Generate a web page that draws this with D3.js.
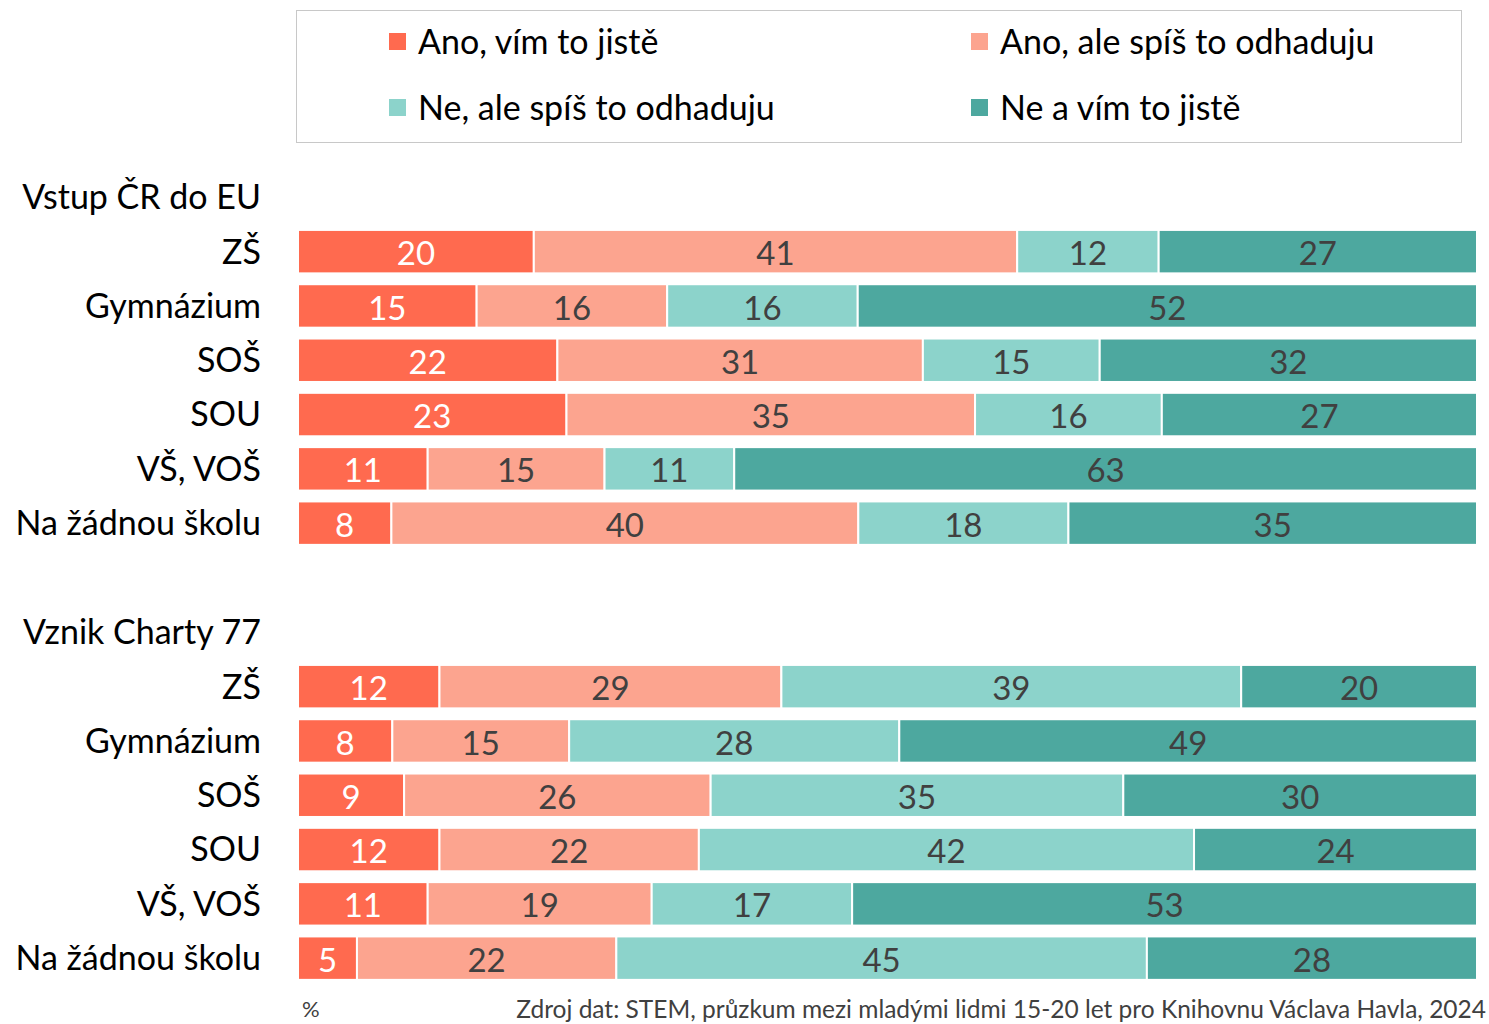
<!DOCTYPE html>
<html>
<head>
<meta charset="utf-8">
<script src="https://cdn.jsdelivr.net/npm/d3@7"></script>
<style>
  body { margin: 0; background: #fff; }
  text { font-family: Lato, "Open Sans", sans-serif; }
</style>
</head>
<body>
<script>
// data
const series = ["Ano, vím to jistě", "Ano, ale spíš to odhaduju", "Ne, ale spíš to odhaduju", "Ne a vím to jistě"];
const colors = ["#FF6A4F", "#FCA48F", "#8CD3CB", "#4DA89F"];
const schools = ["ZŠ", "Gymnázium", "SOŠ", "SOU", "VŠ, VOŠ", "Na žádnou školu"];
const groups = ["Vstup ČR do EU", "Vznik Charty 77"];
const euValues = [
    [20, 41, 12, 27],
    [15, 16, 16, 52],
    [22, 31, 15, 32],
    [23, 35, 16, 27],
    [11, 15, 11, 63],
    [8, 40, 18, 35]
];
const chartaValues = [
    [12, 29, 39, 20],
    [8, 15, 28, 49],
    [9, 26, 35, 30],
    [12, 22, 42, 24],
    [11, 19, 17, 53],
    [5, 22, 45, 28]
];
const groupValues = [euValues, chartaValues];

const width = 1489, height = 1024;
const labelSize = 34;
const svg = d3.select("body").append("svg")
    .attr("width", width)
    .attr("height", height);

// legend
svg.append("rect")
    .attr("x", 296.5).attr("y", 10.5)
    .attr("width", 1165).attr("height", 132)
    .attr("fill", "none")
    .attr("stroke", "#c8c8c8");

const legendX = [389, 971];
const legendY = [42, 108];
series.forEach(function (s, i) {
    const g = svg.append("g")
        .attr("transform", "translate(" + legendX[i % 2] + "," + legendY[Math.floor(i / 2)] + ")");
    g.append("rect")
        .attr("x", 0).attr("y", -9)
        .attr("width", 17).attr("height", 17)
        .attr("fill", colors[i]);
    g.append("text")
        .attr("x", 29).attr("y", 0)
        .attr("dy", "0.35em")
        .attr("font-size", labelSize)
        .attr("fill", "#000")
        .text(s);
});

// scales
const x = d3.scaleLinear().range([298, 1477]);
const groupTop = [170, 605];

groups.forEach(function (name, gi) {
    const top = groupTop[gi];
    const y = d3.scaleBand()
        .domain(schools)
        .range([top + 54.5, top + 54.5 + 54.3 * schools.length])
        .paddingInner(0.2)
        .paddingOuter(0.1);

    svg.append("text")
        .attr("x", 261)
        .attr("y", top + 27)
        .attr("dy", "0.35em")
        .attr("text-anchor", "end")
        .attr("font-size", labelSize)
        .attr("fill", "#000")
        .text(name);

    groupValues[gi].forEach(function (row, ri) {
        const total = d3.sum(row);
        x.domain([0, total]);
        const stacked = d3.cumsum(row);
        const rowG = svg.append("g");
        const cy = y(schools[ri]) + y.bandwidth() / 2;

        rowG.append("text")
            .attr("x", 261)
            .attr("y", cy)
            .attr("dy", "0.35em")
            .attr("text-anchor", "end")
            .attr("font-size", labelSize)
            .attr("fill", "#000")
            .text(schools[ri]);

        row.forEach(function (v, si) {
            const x0 = x(stacked[si] - v);
            const x1 = x(stacked[si]);
            rowG.append("rect")
                .attr("x", x0)
                .attr("y", y(schools[ri]))
                .attr("width", x1 - x0)
                .attr("height", y.bandwidth())
                .attr("fill", colors[si])
                .attr("stroke", "#fff")
                .attr("stroke-width", 2);
            rowG.append("text")
                .attr("x", (x0 + x1) / 2)
                .attr("y", cy + 2)
                .attr("dy", "0.35em")
                .attr("text-anchor", "middle")
                .attr("font-size", 33)
                .attr("fill", si === 0 ? "#fff" : "#404040")
                .text(v);
        });
    });
});

// footer
svg.append("text")
    .attr("x", 302).attr("y", 1009)
    .attr("dy", "0.35em")
    .attr("font-size", 22)
    .attr("fill", "#404040")
    .text("%");
svg.append("text")
    .attr("x", 1486).attr("y", 1009)
    .attr("dy", "0.35em")
    .attr("text-anchor", "end")
    .attr("font-size", 24.5)
    .attr("fill", "#404040")
    .text("Zdroj dat: STEM, průzkum mezi mladými lidmi 15-20 let pro Knihovnu Václava Havla, 2024");
</script>
</body>
</html>
